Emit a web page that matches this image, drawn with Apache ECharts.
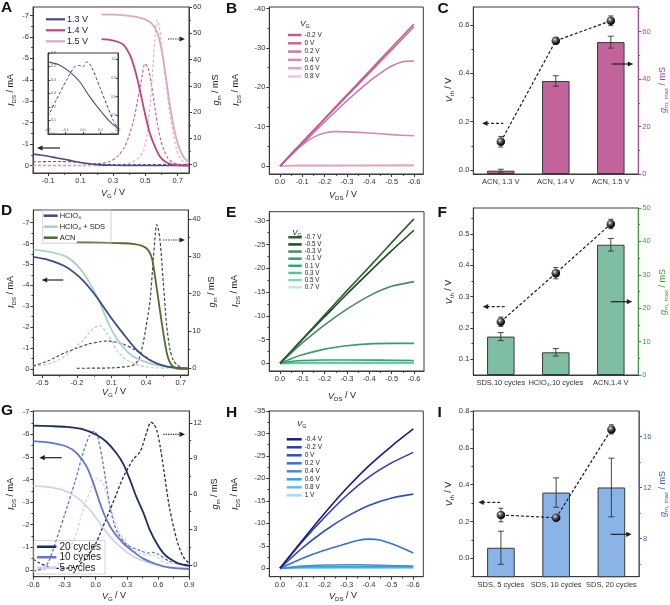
<!DOCTYPE html>
<html>
<head>
<meta charset="utf-8">
<script src="https://cdn.jsdelivr.net/npm/echarts@6.0.0/dist/echarts.min.js"></script>
<style>
html,body{margin:0;padding:0;background:#fff;}
#chart{width:670px;height:605px;}
</style>
</head>
<body>
<div id="chart"></div>
<script>
// ================= DATA =================
// ---- Panel A : transfer curves, ACN at 1.3/1.4/1.5 V ----
const A_xTicks = [-0.1, 0.1, 0.3, 0.5, 0.7];
const A_xMinor = [0.0, 0.2, 0.4, 0.6];
const A_yTicks = [-7, -6, -5, -4, -3, -2, -1, 0];
const A_yMinor = [-6.5, -5.5, -4.5, -3.5, -2.5, -1.5, -0.5];
const A_rTicks = [0, 10, 20, 30, 40, 50, 60];
const A_rMinor = [5, 15, 25, 35, 45, 55];
const A_names = ['1.3 V', '1.4 V', '1.5 V'];
const A_ids13 = [[-0.194,-0.53],[-0.15,-0.49],[-0.1,-0.43],[-0.05,-0.36],[0,-0.29],[0.05,-0.21],[0.1,-0.14],[0.15,-0.08],[0.2,-0.04],[0.3,-0.01],[0.45,0],[0.77,0]];
const A_gm13 = [[-0.194,1.05],[-0.1,1.15],[-0.02,1.2],[0.05,1.0],[0.12,0.6],[0.2,0.25],[0.3,0.05],[0.77,0]];
const A_ids14 = [[0.23,-5.9],[0.28,-5.87],[0.32,-5.8],[0.364,-5.64],[0.405,-5.17],[0.436,-4.47],[0.466,-3.54],[0.497,-2.45],[0.528,-1.51],[0.559,-0.89],[0.59,-0.42],[0.631,-0.14],[0.69,-0.02],[0.77,0]];
const A_ids15 = [[0.23,-7.05],[0.3,-7.04],[0.4,-6.99],[0.45,-6.93],[0.5,-6.82],[0.54,-6.62],[0.57,-6.28],[0.59,-5.78],[0.61,-5.02],[0.63,-3.98],[0.65,-2.92],[0.67,-2.02],[0.69,-1.32],[0.71,-0.82],[0.73,-0.48],[0.75,-0.27],[0.77,-0.16]];
const A_gm14 = [[-0.194,-0.3],[0.1,-0.3],[0.2,0.2],[0.28,1.2],[0.33,3.2],[0.37,6.5],[0.4,11],[0.43,17.5],[0.46,27],[0.48,33.5],[0.497,38.4],[0.515,37.2],[0.535,31.5],[0.555,23.5],[0.575,15.5],[0.595,9.5],[0.615,5.5],[0.64,2.5],[0.67,0.8],[0.72,0.1],[0.77,0]];
const A_gm15 = [[-0.194,-0.5],[0.2,-0.5],[0.3,-0.3],[0.37,0.2],[0.42,1.0],[0.46,2.6],[0.49,5.5],[0.51,11],[0.53,23],[0.55,40],[0.562,50],[0.573,55],[0.585,53],[0.6,46],[0.615,37],[0.63,30],[0.65,20],[0.67,12.5],[0.69,6.5],[0.71,3],[0.74,0.8],[0.77,0.2]];
// inset of A (1.3 V)
const IN_xTicks = [-0.2, -0.1, 0, 0.1, 0.2];
const IN_yTicks = [-0.6, -0.5, -0.4, -0.3, -0.2, -0.1, 0];
const IN_rTicks = [0, 0.3, 0.6, 0.9, 1.2];
const IN_ids = [[-0.2,-0.534],[-0.133,-0.51],[-0.076,-0.46],[-0.019,-0.387],[0.038,-0.277],[0.095,-0.18],[0.152,-0.093],[0.2,-0.042]];
const IN_gm = [[-0.2,0.28],[-0.152,0.55],[-0.095,0.86],[-0.048,1.08],[-0.019,1.1],[0,1.08],[0.023,1.16],[0.048,1.08],[0.095,0.76],[0.133,0.49],[0.171,0.23],[0.2,0.09]];

// ---- Panel B : output curves (ACN 1.4 V) ----
const OUT_xTicks = [0, -0.1, -0.2, -0.3, -0.4, -0.5, -0.6];
const OUT_xMinor = [-0.05, -0.15, -0.25, -0.35, -0.45, -0.55];
const B_yTicks = [-40, -30, -20, -10, 0];
const B_yMinor = [-35, -25, -15, -5];
const B_names = ['-0.2 V', '0 V', '0.2 V', '0.4 V', '0.6 V', '0.8 V'];
const B_m02 = [[0,0],[-0.1,-6.1],[-0.2,-12.1],[-0.3,-18.1],[-0.4,-24.1],[-0.5,-30.1],[-0.6,-36.1]];
const B_0 = [[0,0],[-0.1,-6.0],[-0.2,-11.9],[-0.3,-17.8],[-0.4,-23.6],[-0.5,-29.5],[-0.6,-35.4]];
const B_02 = [[0,0],[-0.1,-5.6],[-0.2,-11.2],[-0.3,-16.6],[-0.4,-21.5],[-0.45,-23.6],[-0.5,-25.4],[-0.55,-26.5],[-0.6,-26.7]];
const B_04 = [[0,0],[-0.05,-2.9],[-0.1,-5.4],[-0.15,-7.3],[-0.2,-8.4],[-0.25,-8.75],[-0.3,-8.7],[-0.4,-8.4],[-0.5,-8.0],[-0.6,-7.7]];
const B_06 = [[0,0],[-0.05,-0.15],[-0.1,-0.2],[-0.6,-0.25]];
const B_08 = [[0,0],[-0.6,-0.05]];

// ---- Panel C : Vth and gm,max (ACN) ----
const C_cats = ['ACN, 1.3 V', 'ACN, 1.4 V', 'ACN, 1.5 V'];
const C_yTicks = [0, 0.2, 0.4, 0.6];
const C_yMinor = [0.1, 0.3, 0.5];
const C_rTicks = [0, 20, 40, 60];
const C_rMinor = [10, 30, 50, 70];
const C_gm = [1.4, 39.2, 55.6];
const C_gmErr = [0.6, 2.2, 2.5];
const C_vth = [0.117, 0.535, 0.618];
const C_vthErr = [0.022, 0.012, 0.02];

// ---- Panel D : transfer curves, electrolytes ----
const D_xTicks = [-0.5, -0.2, 0.1, 0.4, 0.7];
const D_xMinor = [-0.35, -0.05, 0.25, 0.55];
const D_yTicks = [-7, -6, -5, -4, -3, -2, -1, 0];
const D_yMinor = [-6.5, -5.5, -4.5, -3.5, -2.5, -1.5, -0.5];
const D_rTicks = [0, 10, 20, 30, 40];
const D_rMinor = [5, 15, 25, 35];
const D_names = ['HClO₄', 'HClO₄ + SDS', 'ACN'];
const D_hclo4 = [[-0.578,-5.36],[-0.45,-5.22],[-0.3,-4.9],[-0.15,-4.25],[-0.03,-3.45],[0.09,-2.5],[0.2,-1.7],[0.32,-0.9],[0.43,-0.43],[0.58,-0.11],[0.766,-0.02]];
const D_sds = [[-0.578,-5.71],[-0.434,-5.6],[-0.289,-5.36],[-0.173,-4.8],[-0.087,-4.09],[0,-3.14],[0.087,-2.02],[0.173,-1.23],[0.289,-0.59],[0.433,-0.27],[0.578,-0.11],[0.766,-0.02]];
const D_acn = [[-0.2,-6.05],[0,-6.04],[0.2,-6.01],[0.3,-5.97],[0.36,-5.9],[0.4,-5.78],[0.43,-5.58],[0.45,-5.3],[0.465,-4.88],[0.49,-3.95],[0.52,-2.8],[0.55,-1.7],[0.578,-0.8],[0.607,-0.3],[0.64,-0.08],[0.67,-0.02],[0.766,0]];
const D_gmHclo4 = [[-0.578,0.6],[-0.45,2.0],[-0.3,4.2],[-0.2,5.4],[-0.1,6.5],[0,7.1],[0.05,7.3],[0.1,7.2],[0.2,6.5],[0.3,5.0],[0.36,3.8],[0.45,2.0],[0.52,1.0],[0.6,0.45],[0.7,0.1],[0.766,0]];
const D_gmSds = [[-0.578,0.5],[-0.434,1.3],[-0.3,3.3],[-0.2,6.0],[-0.145,7.6],[-0.06,10.6],[0,11.4],[0.058,9.4],[0.1,7.4],[0.145,4.9],[0.23,2.2],[0.35,0.7],[0.48,0.1],[0.766,0]];
const D_gmAcn = [[-0.2,0],[0.1,0.1],[0.25,0.5],[0.3,1.0],[0.34,2.6],[0.376,7],[0.41,13],[0.434,18],[0.462,29],[0.48,36],[0.491,38.5],[0.505,37.5],[0.52,34.5],[0.535,29],[0.549,23],[0.565,16.5],[0.578,11.5],[0.607,5],[0.635,2.2],[0.665,1],[0.7,0.3],[0.766,0]];

// ---- Panel E : output curves (HClO4 + SDS) ----
const E_yTicks = [-30, -25, -20, -15, -10, -5, 0];
const E_yMinor = [-27.5, -22.5, -17.5, -12.5, -7.5, -2.5];
const E_names = ['-0.7 V', '-0.5 V', '-0.3 V', '-0.1 V', '0.1 V', '0.3 V', '0.5 V', '0.7 V'];
const E_m07 = [[0,0],[-0.1,-5.1],[-0.2,-10.2],[-0.3,-15.3],[-0.4,-20.3],[-0.5,-25.4],[-0.6,-30.4]];
const E_m05 = [[0,0],[-0.1,-5.0],[-0.2,-9.8],[-0.3,-14.6],[-0.4,-19.2],[-0.5,-23.7],[-0.6,-28.0]];
const E_m03 = [[0,0],[-0.1,-4.3],[-0.2,-8.1],[-0.3,-11.4],[-0.4,-14.2],[-0.5,-16.2],[-0.6,-17.2]];
const E_m01 = [[0,0],[-0.05,-1.0],[-0.1,-1.8],[-0.2,-3.0],[-0.3,-3.7],[-0.4,-4.1],[-0.5,-4.2],[-0.6,-4.2]];
const E_01 = [[0,0],[-0.05,-0.4],[-0.1,-0.6],[-0.2,-0.7],[-0.3,-0.72],[-0.6,-0.6]];
const E_03 = [[0,0],[-0.1,-0.2],[-0.6,-0.2]];
const E_05 = [[0,0],[-0.6,-0.05]];
const E_07 = [[0,0],[-0.6,0]];

// ---- Panel F : Vth and gm,max (electrolytes) ----
const F_cats = ['SDS,10 cycles', 'HClO₄,10 cycles', 'ACN,1.4 V'];
const F_yTicks = [0.1, 0.2, 0.3, 0.4, 0.5];
const F_yMinor = [0.15, 0.25, 0.35, 0.45, 0.55];
const F_rTicks = [0, 10, 20, 30, 40, 50];
const F_rMinor = [5, 15, 25, 35, 45];
const F_gm = [11.5, 6.8, 39.0];
const F_gmErr = [1.2, 1.1, 1.9];
const F_vth = [0.22, 0.375, 0.532];
const F_vthErr = [0.015, 0.018, 0.015];

// ---- Panel G : transfer curves, SDS cycles ----
const G_xTicks = [-0.6, -0.3, 0, 0.3, 0.6, 0.9];
const G_xMinor = [-0.45, -0.15, 0.15, 0.45, 0.75];
const G_yTicks = [-7, -6, -5, -4, -3, -2, -1, 0];
const G_yMinor = [-6.5, -5.5, -4.5, -3.5, -2.5, -1.5, -0.5];
const G_rTicks = [0, 3, 6, 9, 12];
const G_rMinor = [1.5, 4.5, 7.5, 10.5];
const G_names = ['20 cycles', '10 cycles', '5 cycles'];
const G_20 = [[-0.6,-6.38],[-0.44,-6.36],[-0.28,-6.33],[-0.12,-6.22],[0.01,-5.97],[0.1,-5.68],[0.2,-5.16],[0.27,-4.65],[0.33,-3.98],[0.39,-3.24],[0.46,-2.51],[0.52,-1.77],[0.586,-1.18],[0.65,-0.74],[0.71,-0.5],[0.8,-0.28],[0.9,-0.18]];
const G_10 = [[-0.6,-5.7],[-0.44,-5.63],[-0.28,-5.46],[-0.18,-5.16],[-0.087,-4.57],[-0.023,-3.84],[0.041,-2.95],[0.105,-2.21],[0.169,-1.7],[0.266,-1.18],[0.362,-0.81],[0.458,-0.5],[0.586,-0.25],[0.714,-0.1],[0.9,-0.04]];
const G_5 = [[-0.6,-3.72],[-0.44,-3.66],[-0.28,-3.47],[-0.151,-3.1],[-0.055,-2.65],[0.041,-2.06],[0.137,-1.47],[0.234,-1.03],[0.362,-0.59],[0.522,-0.3],[0.65,-0.15],[0.9,-0.06]];
const G_gm20 = [[-0.6,0.5],[-0.55,0.2],[-0.4,-0.3],[-0.2,-0.2],[-0.1,0.5],[0,1.8],[0.05,2.8],[0.14,4.7],[0.2,6.0],[0.27,7.5],[0.36,8.9],[0.43,9.6],[0.49,11.2],[0.53,12.05],[0.56,11.9],[0.59,11.3],[0.62,10.0],[0.65,8.3],[0.71,4.8],[0.78,2.1],[0.84,0.7],[0.9,0.1]];
const G_gm10 = [[-0.6,-0.5],[-0.5,-0.3],[-0.45,0.3],[-0.39,1.8],[-0.3,4.2],[-0.2,7.0],[-0.12,9.5],[-0.06,10.9],[-0.015,11.3],[0.02,10.8],[0.07,8.6],[0.14,4.8],[0.2,2.9],[0.3,1.7],[0.43,1.2],[0.5,1.0],[0.55,1.05],[0.6,0.9],[0.7,0.35],[0.8,0.1],[0.9,0]];
const G_gm5 = [[-0.6,-0.5],[-0.4,-0.2],[-0.28,1.0],[-0.2,2.3],[-0.15,3.8],[-0.1,5.2],[-0.05,6.3],[0,7.3],[0.03,7.25],[0.07,6.9],[0.14,4.9],[0.23,2.7],[0.36,1.27],[0.45,0.9],[0.52,0.8],[0.55,0.85],[0.65,0.25],[0.8,0.05],[0.9,0]];

// ---- Panel H : output curves (SDS 20 cycles) ----
const H_yTicks = [-35, -30, -25, -20, -15, -10, -5, 0];
const H_yMinor = [-32.5, -27.5, -22.5, -17.5, -12.5, -7.5, -2.5];
const H_names = ['-0.4 V', '-0.2 V', '0 V', '0.2 V', '0.4 V', '0.6 V', '0.8 V', '1 V'];
const H_m04 = [[0,0],[-0.1,-6.2],[-0.2,-12.2],[-0.3,-17.8],[-0.4,-22.8],[-0.5,-27.1],[-0.6,-31]];
const H_m02 = [[0,0],[-0.1,-5.9],[-0.2,-11.3],[-0.3,-16.2],[-0.4,-20.3],[-0.5,-23.4],[-0.6,-25.8]];
const H_0 = [[0,0],[-0.1,-4.5],[-0.2,-8.3],[-0.3,-11.5],[-0.4,-14],[-0.5,-15.6],[-0.6,-16.5]];
const H_02 = [[0,0],[-0.1,-2.2],[-0.2,-4],[-0.3,-5.5],[-0.35,-6.2],[-0.4,-6.5],[-0.45,-6.3],[-0.5,-5.5],[-0.55,-4.5],[-0.6,-3.4]];
const H_04 = [[0,0],[-0.1,-0.5],[-0.2,-0.75],[-0.3,-0.8],[-0.4,-0.75],[-0.5,-0.6],[-0.6,-0.5]];
const H_06 = [[0,0],[-0.1,-0.3],[-0.3,-0.4],[-0.6,-0.35]];
const H_08 = [[0,0],[-0.1,-0.15],[-0.6,-0.2]];
const H_1 = [[0,0],[-0.6,-0.05]];

// ---- Panel I : Vth and gm,max (SDS cycles) ----
const I_cats = ['SDS, 5 cycles', 'SDS, 10 cycles', 'SDS, 20 cycles'];
const I_yTicks = [0, 0.2, 0.4, 0.6, 0.8];
const I_yMinor = [-0.1, 0.1, 0.3, 0.5, 0.7];
const I_rTicks = [8, 12, 16];
const I_rMinor = [6, 10, 14];
const I_gm = [7.27, 11.6, 12.0];
const I_gmErr = [1.3, 1.15, 2.3];
const I_vth = [0.235, 0.22, 0.70];
const I_vthErr = [0.037, 0.01, 0.025];

// ================= BUILD =================
const FONT = '"Liberation Sans", Arial, Helvetica, sans-serif';
const AX = '#3a3a3a';
const grid = [], xAxis = [], yAxis = [], series = [], legend = [], graphic = [];

function fmt(dec) { return function (v) { return Number(v).toFixed(dec); }; }

function mkGrid(r, show, bg) {
  grid.push({left: r[0], top: r[1], width: r[2], height: r[3], show: show, borderColor: AX, borderWidth: 1,
    backgroundColor: bg || 'transparent', containLabel: false, outerBoundsMode: 'none'});
  return grid.length - 1;
}
function valAxis(gi, a, pos, minor) {
  const col = a.color || AX;
  const tickVals = minor ? (a.minor || []) : a.ticks;
  return {
    type: 'value', gridIndex: gi, position: pos, min: a.min, max: a.max, inverse: !!a.inverse,
    splitLine: {show: false}, minorTick: {show: false}, minorSplitLine: {show: false},
    axisLine: {show: !minor, onZero: false, lineStyle: {color: col, width: 1}},
    axisTick: {show: tickVals.length > 0, inside: !!a.inside, length: minor ? (a.inside ? 1.2 : 1.8) : (a.inside ? 2 : 3),
      customValues: tickVals, lineStyle: {color: col, width: 1}},
    axisLabel: {show: !minor, inside: !!a.inside, customValues: a.ticks, formatter: fmt(a.dec || 0),
      fontSize: a.fs || 7.5, fontFamily: FONT, color: a.labelColor || '#333', margin: a.margin == null ? 4 : a.margin},
    axisPointer: {show: false}, silent: true
  };
}
function catAxis(gi, cats, show) {
  return {type: 'category', gridIndex: gi, position: 'bottom', data: cats, show: show, boundaryGap: true,
    axisLine: {show: true, onZero: false, lineStyle: {color: AX, width: 1}}, axisTick: {show: false},
    axisLabel: {interval: 0, fontSize: 7.5, fontFamily: FONT, color: '#333', margin: 4},
    splitLine: {show: false}, axisPointer: {show: false}};
}
function panel(p) {
  const gi = mkGrid(p.rect, true, p.bg);
  const gm = mkGrid(p.rect, false);
  const ax = {x: xAxis.length};
  if (p.cats) { xAxis.push(catAxis(gi, p.cats, true)); xAxis.push(catAxis(gm, p.cats, false)); }
  else { xAxis.push(valAxis(gi, p.x, 'bottom', false)); xAxis.push(valAxis(gm, p.x, 'bottom', true)); }
  ax.yl = yAxis.length;
  yAxis.push(valAxis(gi, p.yl, 'left', false));
  ax.yr = null;
  if (p.yr) { ax.yr = yAxis.length; yAxis.push(valAxis(gi, p.yr, 'right', false)); }
  yAxis.push(valAxis(gm, p.yl, 'left', true));
  if (p.yr) yAxis.push(valAxis(gm, p.yr, 'right', true));
  return ax;
}
function line(ax, yIdx, name, data, color, w, dashed, z) {
  series.push({type: 'line', name: name, xAxisIndex: ax.x, yAxisIndex: yIdx, data: data, symbol: 'none', showSymbol: false,
    smooth: 0.25, color: color, itemStyle: {color: color},
    lineStyle: {color: color, width: w, type: dashed ? [3, 2] : 'solid'}, z: z || 2, silent: true, clip: true});
}
function addLegend(names, o) {
  legend.push({data: names, orient: 'vertical', left: o.left, top: o.top, icon: 'rect', itemWidth: o.iw, itemHeight: o.ih,
    itemGap: o.gap || 0, selectedMode: false, padding: o.pad || 0,
    borderColor: o.border || 'transparent', borderWidth: o.border ? 0.8 : 0, backgroundColor: 'transparent',
    formatter: function (n) { return n.split('|')[1]; },
    textStyle: {fontSize: o.fs, fontFamily: FONT, color: '#222', lineHeight: o.lh, padding: [0, 0, 0, o.tp == null ? -2 : o.tp]}});
}
const SPHERE = {type: 'radial', x: 0.38, y: 0.35, r: 0.7,
  colorStops: [{offset: 0, color: '#f2f2f2'}, {offset: 0.3, color: '#6a6a6a'}, {offset: 0.75, color: '#111'}, {offset: 1, color: '#000'}]};
function errBars(ax, yIdx, vals, errs, cap, z) {
  series.push({type: 'custom', xAxisIndex: ax.x, yAxisIndex: yIdx, silent: true, z: z, clip: false,
    data: vals.map(function (v, i) { return [i, v, errs[i]]; }),
    encode: {x: 0, y: 1},
    renderItem: function (params, api) {
      const i = api.value(0), v = api.value(1), e = api.value(2);
      const hi = api.coord([i, v + e]), lo = api.coord([i, v - e]);
      const x = hi[0];
      const st = {stroke: '#333', lineWidth: 0.9};
      return {type: 'group', children: [
        {type: 'line', shape: {x1: x, y1: hi[1], x2: x, y2: lo[1]}, style: st},
        {type: 'line', shape: {x1: x - cap, y1: hi[1], x2: x + cap, y2: hi[1]}, style: st},
        {type: 'line', shape: {x1: x - cap, y1: lo[1], x2: x + cap, y2: lo[1]}, style: st}
      ]};
    }});
}
function barPanel(ax, gmVals, gmErrs, vth, vthErrs, color) {
  series.push({type: 'bar', xAxisIndex: ax.x, yAxisIndex: ax.yr, data: gmVals, barWidth: '50%', silent: true, clip: true,
    itemStyle: {color: color, borderColor: '#3a3a3a', borderWidth: 1}, z: 2});
  errBars(ax, ax.yr, gmVals, gmErrs, 3, 4);
  errBars(ax, ax.yl, vth, vthErrs, 2.5, 5);
  series.push({type: 'line', xAxisIndex: ax.x, yAxisIndex: ax.yl, data: vth, symbol: 'circle', symbolSize: 8.5, silent: true,
    lineStyle: {color: '#1a1a1a', width: 1.2, type: [3, 2]}, itemStyle: {color: SPHERE, borderWidth: 0}, z: 10});
}
function rich(fs, color) {
  return {
    i: {fontSize: fs, fontStyle: 'italic', fontFamily: FONT, fill: color, lineHeight: fs + 3},
    n: {fontSize: fs, fontFamily: FONT, fill: color, lineHeight: fs + 3},
    s: {fontSize: Math.round(fs * 0.68 * 10) / 10, fontFamily: FONT, fill: color, verticalAlign: 'bottom'}
  };
}
function label(x, y, text, fs, color, rot) {
  graphic.push({type: 'text', x: x, y: y, rotation: rot || 0, z: 100, silent: true,
    style: {text: text, rich: rich(fs, color), fill: color, fontSize: fs, fontFamily: FONT, align: 'center', verticalAlign: 'middle'}});
}
function letter(x, y, t) {
  graphic.push({type: 'text', x: x, y: y, z: 100, silent: true,
    style: {text: t, fill: '#111', fontSize: 15.5, fontWeight: 'bold', fontFamily: FONT, align: 'left', verticalAlign: 'top'}});
}
function arrow(x1, x2, y, head, dash) {
  const hx = head === 'left' ? x1 : x2;
  const d = head === 'left' ? 1 : -1;
  graphic.push({type: 'line', z: 100, silent: true,
    shape: {x1: head === 'left' ? x1 + 4 : x1, y1: y, x2: head === 'left' ? x2 : x2 - 4, y2: y},
    style: {stroke: '#222', lineWidth: 1.2, lineDash: dash || null}});
  graphic.push({type: 'polygon', z: 100, silent: true,
    shape: {points: [[hx, y], [hx + d * 5.5, y - 2.6], [hx + d * 5.5, y + 2.6]]}, style: {fill: '#222'}});
}

const VG = '{i|V}{s|G}{n| / V}';
const VDS = '{i|V}{s|DS}{n| / V}';
const IDS = '{i|I}{s|DS}{n| / mA}';
const GM = '{i|g}{s|m}{n| / mS}';
const VTH = '{i|V}{s|th}{n| / V}';
const GMAX = '{i|g}{s|m, max}{n| / mS}';
const ROT = Math.PI / 2;

// ---------- Panel A ----------
const A_col = ['#4b4b7d', '#c3417f', '#d9aac8'];
const axA = panel({rect: [33, 7, 156, 166],
  x: {min: -0.194, max: 0.77, ticks: A_xTicks, minor: A_xMinor, dec: 1},
  yl: {min: -7.4, max: 0.35, inverse: true, ticks: A_yTicks, minor: A_yMinor, dec: 0},
  yr: {min: -3.2, max: 60, ticks: A_rTicks, minor: A_rMinor, dec: 0}});
line(axA, axA.yr, 'A gm 1.4', A_gm14, '#c9689a', 1.2, true, 2);
line(axA, axA.yr, 'A gm 1.5', A_gm15, '#dcb6cd', 1.2, true, 2);
line(axA, axA.yr, 'A gm 1.3', A_gm13, '#5a5a86', 1.1, true, 2);
line(axA, axA.yl, 'A|' + A_names[0], A_ids13, A_col[0], 1.6, false, 3);
line(axA, axA.yl, 'A|' + A_names[1], A_ids14, A_col[1], 1.8, false, 3);
line(axA, axA.yl, 'A|' + A_names[2], A_ids15, A_col[2], 1.8, false, 3);
addLegend(A_names.map(function (n) { return 'A|' + n; }), {left: 46, top: 13.8, iw: 19, ih: 2.2, fs: 9, lh: 11, tp: -3});
// inset
const axIN = panel({rect: [48, 53, 70, 81], bg: '#fff',
  x: {min: -0.2, max: 0.2, ticks: IN_xTicks, dec: 1, inside: true, fs: 3.5, margin: 2, labelColor: '#555'},
  yl: {min: -0.6, max: 0, inverse: true, ticks: IN_yTicks, dec: 1, inside: true, fs: 3.5, margin: 2, labelColor: '#555'},
  yr: {min: 0, max: 1.3, ticks: IN_rTicks, dec: 1, inside: true, fs: 3.5, margin: 2, labelColor: '#555'}});
line(axIN, axIN.yl, 'IN ids', IN_ids, '#4b4b7d', 1.1, false, 6);
line(axIN, axIN.yr, 'IN gm', IN_gm, '#4b4b7d', 1.0, true, 6);
arrow(37, 60, 148, 'left');
arrow(168, 185, 39, 'right', [1.2, 1.2]);
label(11, 90, IDS, 9, '#222', ROT);
label(216, 90, GM, 9, '#222', ROT);
label(113, 193, VG, 9, '#222', 0);
letter(1, 0, 'A');

// ---------- Panel B ----------
const B_col = ['#c05c90', '#c7699b', '#cc79a6', '#d28bb2', '#dca6c6', '#ecc8dc'];
const B_data = [B_m02, B_0, B_02, B_04, B_06, B_08];
const axB = panel({rect: [269.3, 7, 154, 167],
  x: {min: -0.642, max: 0.048, inverse: true, ticks: OUT_xTicks, minor: OUT_xMinor, dec: 1},
  yl: {min: -40.4, max: 2.0, inverse: true, ticks: B_yTicks, minor: B_yMinor, dec: 0}});
for (let k = B_data.length - 1; k >= 0; k--) line(axB, axB.yl, 'B|' + B_names[k], B_data[k], B_col[k], 1.6, false, 3);
addLegend(B_names.map(function (n) { return 'B|' + n; }), {left: 288, top: 30.85, iw: 13.5, ih: 2.5, fs: 6.5, lh: 8.3, tp: -2});
label(305, 24, '{i|V}{s|G}', 8, '#222', 0);
label(236, 90, IDS, 9, '#222', ROT);
label(343, 195, VDS, 9, '#222', 0);
letter(226, 1, 'B');

// ---------- Panel C ----------
const C_purple = '#a3479c';
const axC = panel({rect: [473.3, 7, 165, 167], cats: C_cats,
  yl: {min: -0.0166, max: 0.675, ticks: C_yTicks, minor: C_yMinor, dec: 1},
  yr: {min: 0, max: 70.4, ticks: C_rTicks, minor: C_rMinor, dec: 0, color: C_purple, labelColor: C_purple}});
barPanel(axC, C_gm, C_gmErr, C_vth, C_vthErr, '#c2649b');
arrow(482, 503.3, 123.3, 'left', [3, 2]);
arrow(611.7, 633.3, 64, 'right');
label(449, 90, VTH, 9, '#222', ROT);
label(663, 90, GMAX, 9, C_purple, ROT);
letter(437.5, 1, 'C');

// ---------- Panel D ----------
const D_col = ['#3d4b87', '#a9d0c2', '#4e6d2c'];
const axD = panel({rect: [33.3, 210, 155, 165],
  x: {min: -0.578, max: 0.766, ticks: D_xTicks, minor: D_xMinor, dec: 1},
  yl: {min: -7.6, max: 0.29, inverse: true, ticks: D_yTicks, minor: D_yMinor, dec: 0},
  yr: {min: -1.8, max: 42.4, ticks: D_rTicks, minor: D_rMinor, dec: 0}});
line(axD, axD.yr, 'D gm sds', D_gmSds, '#b9cdc6', 1.2, true, 2);
line(axD, axD.yr, 'D gm hclo4', D_gmHclo4, '#3d4b87', 1.2, true, 2);
line(axD, axD.yr, 'D gm acn', D_gmAcn, '#3e4a3a', 1.2, true, 2);
line(axD, axD.yl, 'D|' + D_names[1], D_sds, D_col[1], 1.8, false, 3);
line(axD, axD.yl, 'D|' + D_names[0], D_hclo4, D_col[0], 1.8, false, 3);
line(axD, axD.yl, 'D|' + D_names[2], D_acn, D_col[2], 1.8, false, 3);
addLegend(D_names.map(function (n) { return 'D|' + n; }), {left: 42.7, top: 210.2, iw: 14, ih: 2.5, fs: 7.5, lh: 9, gap: 2, pad: [1, 6, 1, 1], border: '#c8c8c8', tp: -3});
arrow(41.7, 63.3, 280, 'left');
arrow(163.3, 185, 240, 'right', [1.2, 1.2]);
label(11, 292, IDS, 9, '#222', ROT);
label(212, 292, GM, 9, '#222', ROT);
label(114, 392, VG, 9, '#222', 0);
letter(1, 203, 'D');

// ---------- Panel E ----------
const E_col = ['#2f5f2f', '#1e4a28', '#4a8a5e', '#3a9b6c', '#1fae78', '#5cc093', '#8cd3b4', '#c4e9da'];
const E_data = [E_m07, E_m05, E_m03, E_m01, E_01, E_03, E_05, E_07];
const axE = panel({rect: [269.3, 211.7, 154.7, 159.3],
  x: {min: -0.645, max: 0.048, inverse: true, ticks: OUT_xTicks, minor: OUT_xMinor, dec: 1},
  yl: {min: -31.9, max: 1.6, inverse: true, ticks: E_yTicks, minor: E_yMinor, dec: 0}});
for (let k = E_data.length - 1; k >= 0; k--) line(axE, axE.yl, 'E|' + E_names[k], E_data[k], E_col[k], 1.6, false, 3);
addLegend(E_names.map(function (n) { return 'E|' + n; }), {left: 288.3, top: 233.7, iw: 13.4, ih: 2.5, fs: 6.3, lh: 7.14, tp: -2});
label(297, 232.5, '{i|V}{s|G}', 8, '#222', 0);
label(235, 291, IDS, 9, '#222', ROT);
label(342, 396, VDS, 9, '#222', 0);
letter(226, 204.5, 'E');

// ---------- Panel F ----------
const F_green = '#3f9a3f';
const axF = panel({rect: [473.3, 208, 165, 167], cats: F_cats,
  yl: {min: 0.05, max: 0.583, ticks: F_yTicks, minor: F_yMinor, dec: 1},
  yr: {min: 0, max: 50, ticks: F_rTicks, minor: F_rMinor, dec: 0, color: F_green, labelColor: F_green}});
barPanel(axF, F_gm, F_gmErr, F_vth, F_vthErr, '#7ebfa3');
arrow(482.7, 505, 306.7, 'left', [3, 2]);
arrow(610.7, 632.3, 301.7, 'right');
label(449, 292, VTH, 9, '#222', ROT);
label(663, 292, GMAX, 9, F_green, ROT);
letter(437.5, 204.5, 'F');

// ---------- Panel G ----------
const G_col = ['#1f2e5f', '#6573cc', '#cfd2ec'];
const axG = panel({rect: [33.3, 411, 156, 165.7],
  x: {min: -0.6, max: 0.9, ticks: G_xTicks, minor: G_xMinor, dec: 1},
  yl: {min: -7.03, max: 0.3, inverse: true, ticks: G_yTicks, minor: G_yMinor, dec: 0},
  yr: {min: -1, max: 13, ticks: G_rTicks, minor: G_rMinor, dec: 0}});
line(axG, axG.yr, 'G gm 5', G_gm5, '#cfd2ec', 1.3, true, 2);
line(axG, axG.yr, 'G gm 10', G_gm10, '#6573cc', 1.3, true, 2);
line(axG, axG.yr, 'G gm 20', G_gm20, '#1f2e5f', 1.3, true, 2);
line(axG, axG.yl, 'G|' + G_names[2], G_5, G_col[2], 1.8, false, 3);
line(axG, axG.yl, 'G|' + G_names[1], G_10, G_col[1], 1.8, false, 3);
line(axG, axG.yl, 'G|' + G_names[0], G_20, G_col[0], 1.8, false, 3);
addLegend(G_names.map(function (n) { return 'G|' + n; }), {left: 34, top: 540.5, iw: 19.4, ih: 2.5, fs: 10, lh: 10.5, pad: [1, 4, 1, 3], border: '#c8c8c8', tp: -2});
arrow(39.3, 61.7, 457.7, 'left');
arrow(163.3, 185, 434.3, 'right', [1.2, 1.2]);
label(11, 494, IDS, 9, '#222', ROT);
label(215, 494, GM, 9, '#222', ROT);
label(114, 596, VG, 9, '#222', 0);
letter(1, 403, 'G');

// ---------- Panel H ----------
const H_col = ['#1c1c7c', '#2e3ea8', '#3352b8', '#3a72c8', '#4a8fc4', '#28a8e0', '#5cc0ee', '#a6dbf6'];
const H_data = [H_m04, H_m02, H_0, H_02, H_04, H_06, H_08, H_1];
const axH = panel({rect: [269.3, 411, 154, 165.7],
  x: {min: -0.645, max: 0.048, inverse: true, ticks: OUT_xTicks, minor: OUT_xMinor, dec: 1},
  yl: {min: -35, max: 1.86, inverse: true, ticks: H_yTicks, minor: H_yMinor, dec: 0}});
for (let k = H_data.length - 1; k >= 0; k--) line(axH, axH.yl, 'H|' + H_names[k], H_data[k], H_col[k], 1.6, false, 3);
addLegend(H_names.map(function (n) { return 'H|' + n; }), {left: 286.7, top: 435.3, iw: 15, ih: 2.5, fs: 6.5, lh: 8, tp: -2});
label(301.7, 424, '{i|V}{s|G}', 8, '#222', 0);
label(235, 494, IDS, 9, '#222', ROT);
label(343, 596, VDS, 9, '#222', 0);
letter(226, 404.5, 'H');

// ---------- Panel I ----------
const I_blue = '#3a5ec2';
const axI = panel({rect: [473.3, 411, 165.7, 165.7], cats: I_cats,
  yl: {min: -0.1, max: 0.8, ticks: I_yTicks, minor: I_yMinor, dec: 1},
  yr: {min: 5, max: 18, ticks: I_rTicks, minor: I_rMinor, dec: 0, color: I_blue, labelColor: I_blue}});
barPanel(axI, I_gm, I_gmErr, I_vth, I_vthErr, '#8ab4e7');
arrow(478.3, 500, 502.3, 'left', [3, 2]);
arrow(610.7, 631.7, 534.3, 'right');
label(449, 494, VTH, 9, '#222', ROT);
label(663, 494, GMAX, 9, I_blue, ROT);
letter(437.5, 404.5, 'I');

const chart = echarts.init(document.getElementById('chart'), null, {renderer: 'canvas'});
chart.setOption({
  animation: false,
  backgroundColor: '#fff',
  textStyle: {fontFamily: FONT},
  grid: grid, xAxis: xAxis, yAxis: yAxis, series: series, legend: legend, graphic: graphic
});
</script>
</body>
</html>
